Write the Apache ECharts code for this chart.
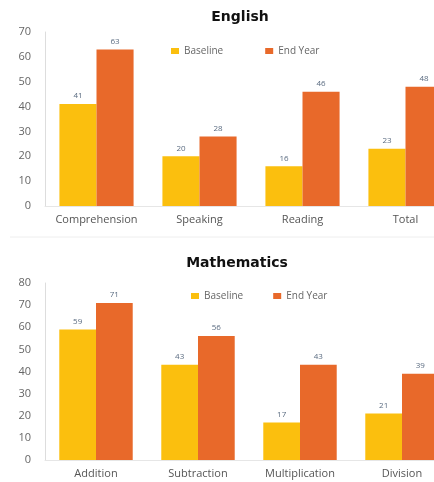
<!DOCTYPE html>
<html><head><meta charset="utf-8">
<script src="https://cdn.jsdelivr.net/npm/echarts@6/dist/echarts.min.js"></script>
<style>html,body{margin:0;padding:0;background:#fff}#c{width:434px;height:482px}</style>
</head><body><div id="c"></div>
<script>
const engCategories = ['Comprehension','Speaking','Reading','Total'];
const engBaseline = [41,20,16,23];
const engEndYear = [63,28,46,48];
const mathCategories = ['Addition','Subtraction','Multiplication','Division'];
const mathBaseline = [59,43,17,21];
const mathEndYear = [71,56,43,39];
const seriesNames = ['Baseline','End Year'];
const colors = ['#FBBF0E','#E8692A'];
const font = 'Open Sans';

const chart = echarts.init(document.getElementById('c'), null, {renderer:'canvas'});
const axisLbl = {color:'#666', fontSize:11, fontFamily:font};
function yAxis(idx, max){
  return {gridIndex:idx, type:'value', min:0, max:max, interval:10,
    axisLine:{show:true, lineStyle:{color:'#ddd'}}, axisTick:{show:false},
    splitLine:{show:false}, axisLabel:Object.assign({margin:14, align:'right'}, axisLbl)};
}
function xAxis(idx, cats){
  return {gridIndex:idx, type:'category', data:cats,
    axisLine:{show:true, lineStyle:{color:'#e6e6e6'}}, axisTick:{show:false},
    axisLabel:Object.assign({margin:8, interval:0}, axisLbl, {color:'#555'})};
}
function bar(name, data, idx, ci){
  return {name:name, type:'bar', xAxisIndex:idx, yAxisIndex:idx, data:data,
    barGap:'0%', barCategoryGap:'28%', itemStyle:{color:colors[ci]},
    label:{show:true, position:'top', distance:4, fontSize:8, color:'#5a6b80', fontFamily:font}};
}
const titleStyle = {fontSize:14, fontWeight:'bold', color:'#111', fontFamily:'DejaVu Sans'};
chart.setOption({
  animation:false,
  textStyle:{fontFamily:font},
  title:[
    {text:'English', left:235, top:5, textAlign:'center', textStyle:titleStyle},
    {text:'Mathematics', left:232, top:251, textAlign:'center', textStyle:titleStyle}
  ],
  legend:[
    {data:seriesNames, left:166, top:41, itemWidth:8, itemHeight:6, itemGap:42, icon:'rect',
      textStyle:{color:'#666', fontSize:10, fontFamily:font}},
    {data:seriesNames, left:186, top:286, itemWidth:8, itemHeight:6, itemGap:30, icon:'rect',
      textStyle:{color:'#666', fontSize:10, fontFamily:font}}
  ],
  grid:[
    {left:45, top:32, width:412, height:174, outerBoundsMode:'none', containLabel:false},
    {left:45, top:283, width:408, height:177, outerBoundsMode:'none', containLabel:false}
  ],
  xAxis:[xAxis(0, engCategories), xAxis(1, mathCategories)],
  yAxis:[yAxis(0,70), yAxis(1,80)],
  series:[
    bar(seriesNames[0], engBaseline, 0, 0),
    bar(seriesNames[1], engEndYear, 0, 1),
    bar(seriesNames[0], mathBaseline, 1, 0),
    bar(seriesNames[1], mathEndYear, 1, 1)
  ],
  graphic:[{type:'line', shape:{x1:10, y1:237, x2:434, y2:237}, style:{stroke:'#eeeeee', lineWidth:1}}]
});
</script></body></html>
